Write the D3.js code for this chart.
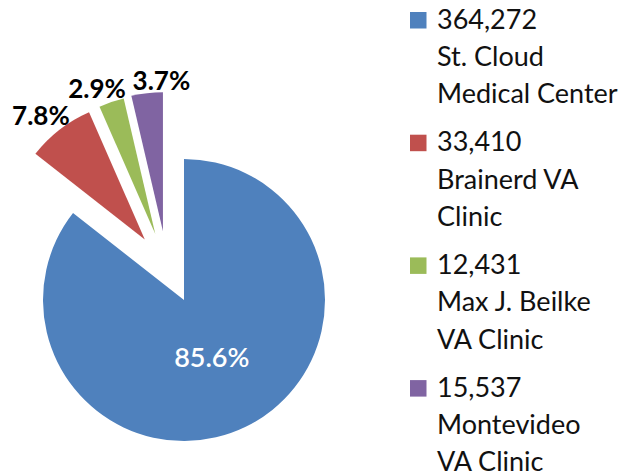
<!DOCTYPE html>
<html>
<head>
<style>
  body {
    margin: 0;
    background-color: #fff;
  }

  svg {
    display: block;
    font-family: Lato, "Open Sans", sans-serif;
  }
</style>
  <script src="https://d3js.org/d3.v7.min.js"></script>
</head>
<body>
<script>
// clinic visits, exploded pie with the legend on the right

const clinics = ['St. Cloud\nMedical Center', 'Brainerd VA\nClinic', 'Max J. Beilke\nVA Clinic', 'Montevideo\nVA Clinic'];
const visits = [364272, 33410, 12431, 15537];
const colors = ['#4F81BD', '#C0504D', '#9BBB59', '#8064A2'];

// explode direction (degrees from 12 o'clock) for the pulled-out slices, null = not pulled
const explodeAngle = [null, 327, 336.5, 343];
// small turns applied to the outside labels
const labelNudge = [0, 0, -4, 0.7];

const width = 629;
const height = 475;

const svg = d3.select('body')
  .append('svg')
  .attr('width', width)
  .attr('height', height);

const cx = 184;
const cy = 300;
const radius = 141;
const explodeDist = 72;

const total = d3.sum(visits);
const pct = d3.format('.1%');
const num = d3.format(',');
const rad = d => d * Math.PI / 180;

const pie = d3.pie().sort(null).value(d => d)(visits);
const arc = d3.arc().innerRadius(0);

const slices = svg.append('g')
  .attr('transform', `translate(${cx},${cy})`);

slices.selectAll('path')
  .data(pie)
  .join('path')
  .attr('transform', (d, i) => {
    if (explodeAngle[i] == null) return null;
    const a = rad(explodeAngle[i]);
    return `translate(${Math.sin(a) * explodeDist},${-Math.cos(a) * explodeDist})`;
  })
  .attr('d', (d, i) => arc.outerRadius(explodeAngle[i] == null ? radius : radius - 2)(d))
  .attr('fill', (d, i) => colors[i]);

// labels
pie.forEach((d, i) => {
  const mid = (d.startAngle + d.endAngle) / 2;
  const label = pct(d.value / total);
  if (explodeAngle[i] == null) {
    const r = radius * 0.45;
    slices.append('text')
      .attr('x', Math.sin(mid) * r)
      .attr('y', -Math.cos(mid) * r + 9.6)
      .attr('text-anchor', 'middle')
      .attr('font-size', 27)
      .attr('font-weight', 600)
      .attr('fill', '#fff')
      .text(label);
  } else {
    const a = mid + rad(labelNudge[i]);
    const t = slices.append('text')
      .attr('text-anchor', 'middle')
      .attr('font-size', 26)
      .attr('font-weight', 700)
      .attr('fill', '#000')
      .text(label);
    const w = t.node().getComputedTextLength();
    const r = radius + 67 + Math.abs(Math.sin(a)) * w / 2 + Math.abs(Math.cos(a)) * 10;
    t.attr('x', Math.sin(a) * r)
      .attr('y', -Math.cos(a) * r + 9.4);
  }
});

// legend
const legendX = 410;
const legendTop = 28.5;
const entryGap = 122.7;
const lineGap = 37.3;

const legend = svg.append('g');

clinics.forEach((name, i) => {
  const base = legendTop + i * entryGap;
  legend.append('rect')
    .attr('x', legendX)
    .attr('y', base - 16.5)
    .attr('width', 16.5)
    .attr('height', 16.5)
    .attr('fill', colors[i]);

  const lines = [num(visits[i])].concat(name.split('\n'));
  lines.forEach((line, j) => {
    legend.append('text')
      .attr('x', legendX + 27)
      .attr('y', base + j * lineGap)
      .attr('font-size', 27)
      .attr('fill', '#111')
      .text(line);
  });
});
</script>
</body>
</html>
